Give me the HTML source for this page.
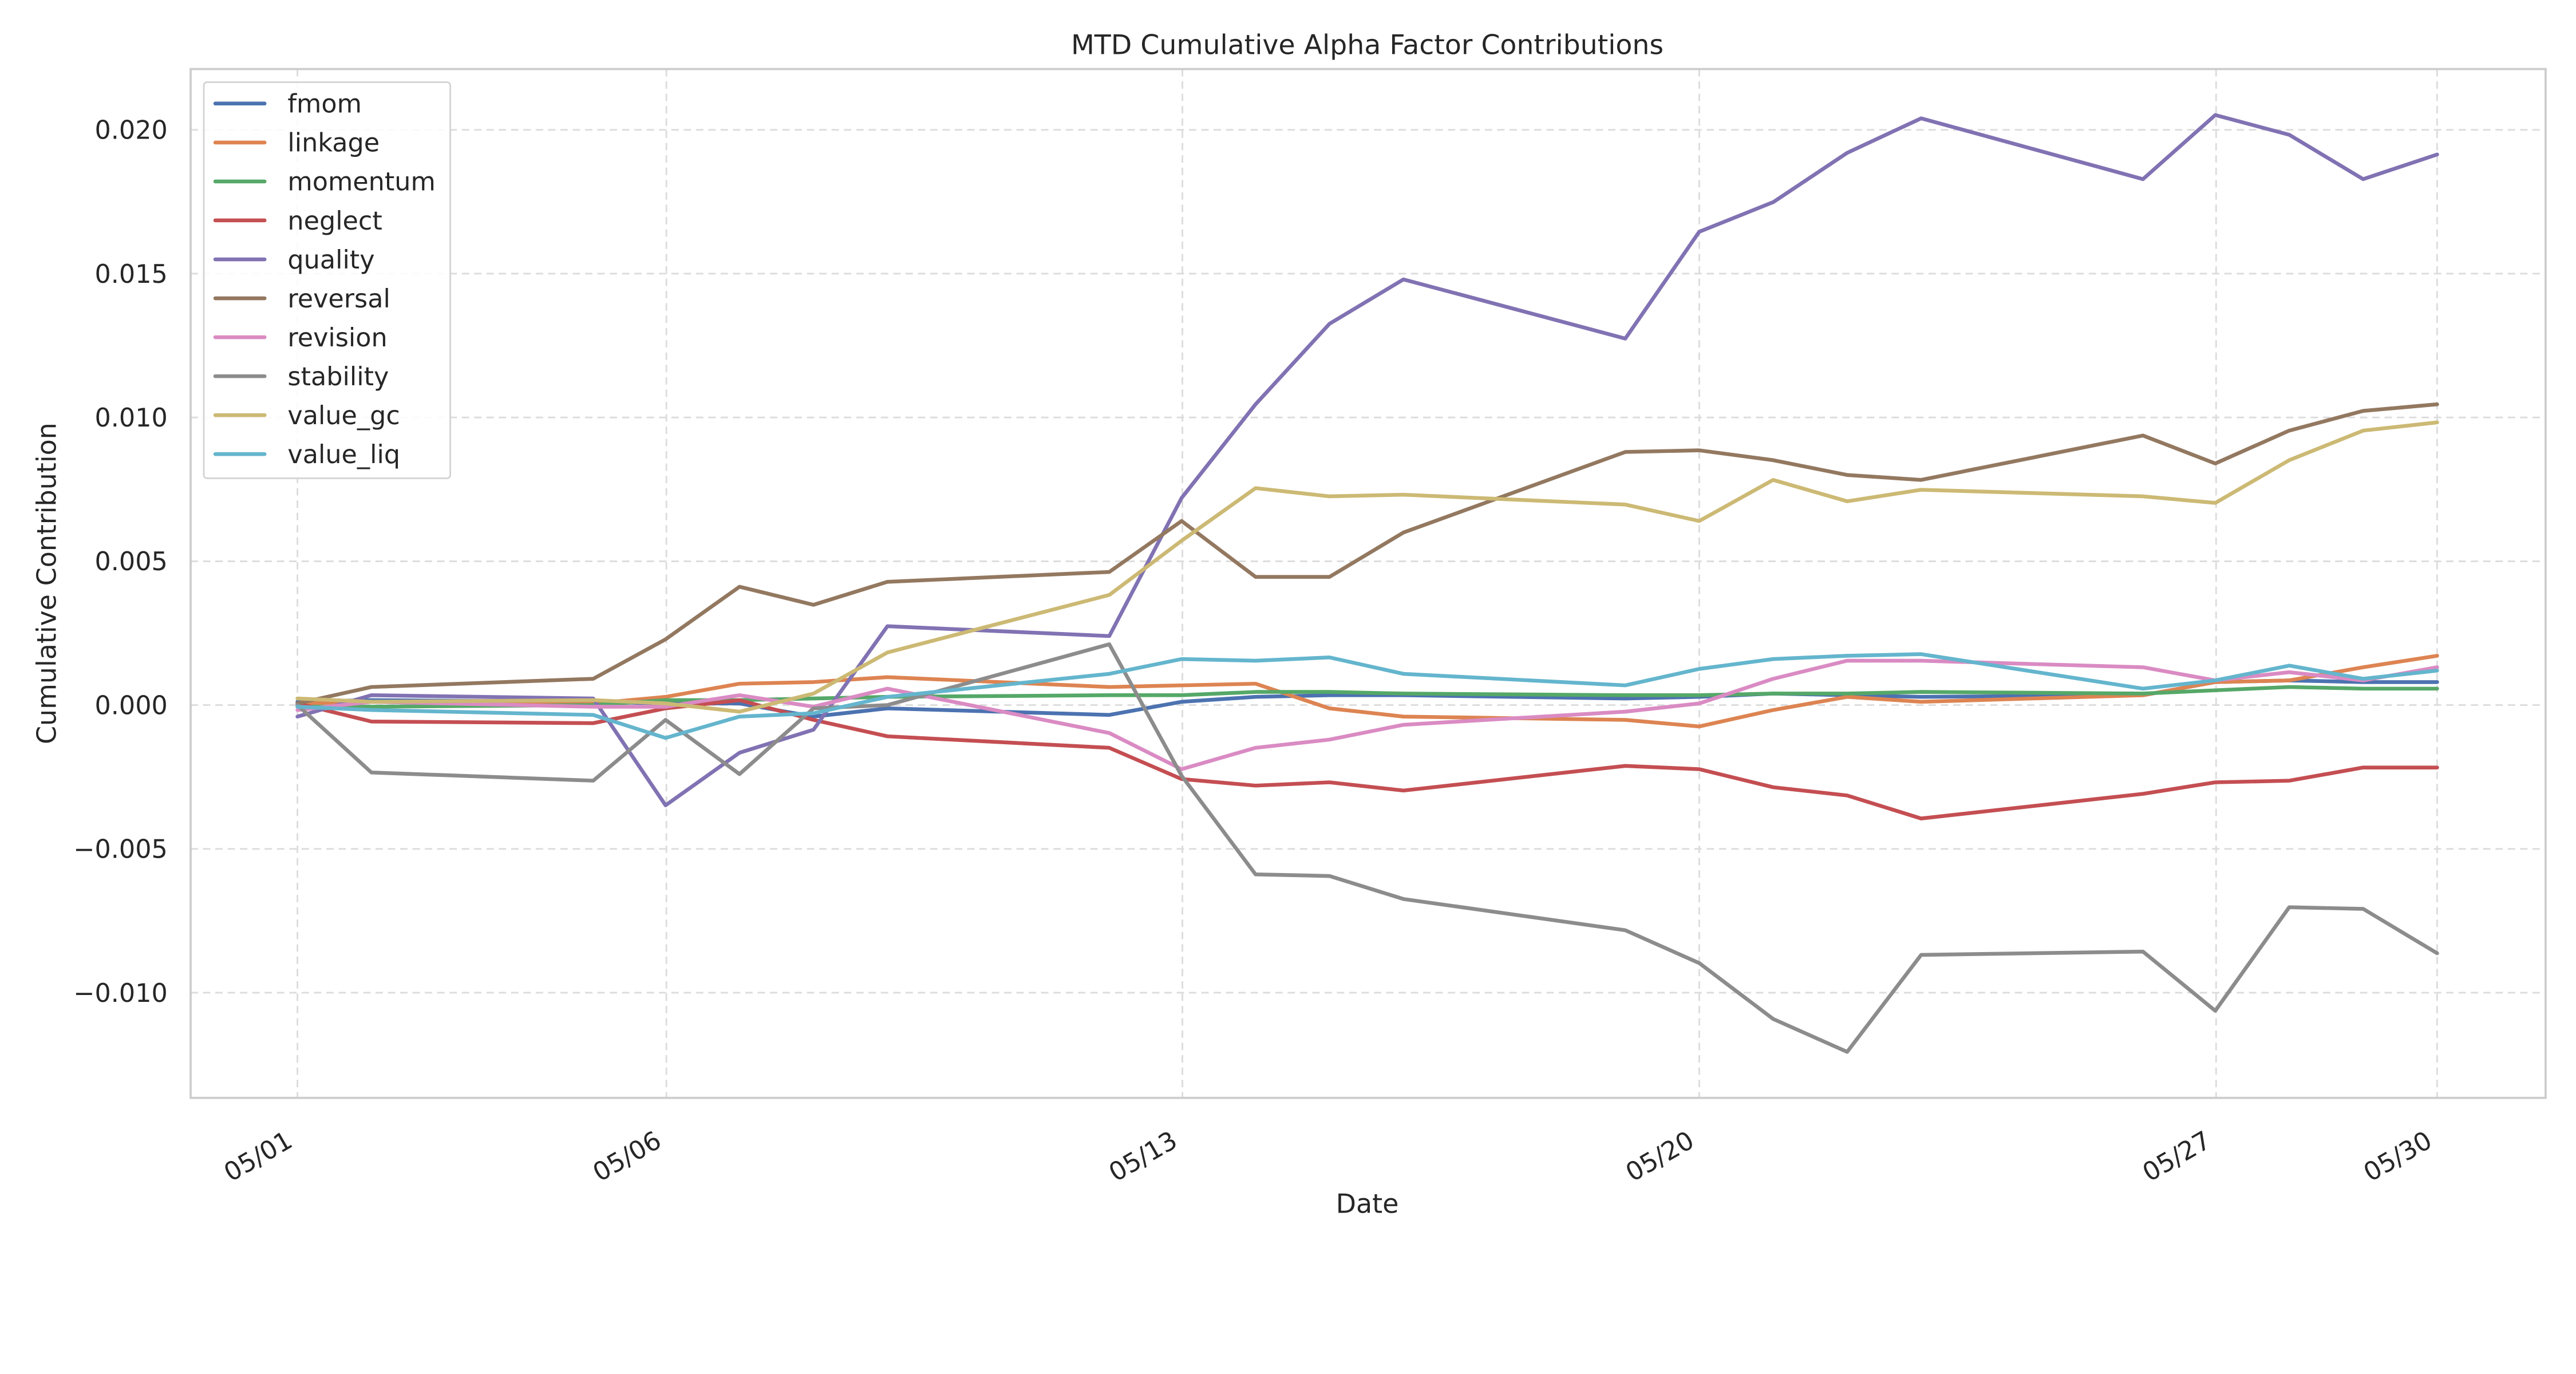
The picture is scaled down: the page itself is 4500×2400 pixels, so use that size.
<!DOCTYPE html>
<html><head><meta charset="utf-8"><style>html,body{margin:0;padding:0;background:#fff}svg{display:block}</style></head>
<body>
<svg width="4500" height="2400" viewBox="0 0 1567.5 836" xmlns="http://www.w3.org/2000/svg" font-family="'DejaVu Sans','Liberation Sans',sans-serif" fill="#262626">
<rect width="1567.5" height="836" fill="#fff"/>
<g stroke="#dcdcdc" stroke-width="1" stroke-dasharray="4.5,3">
<line x1="116" x2="1549" y1="79" y2="79"/><line x1="116" x2="1549" y1="166.5" y2="166.5"/><line x1="116" x2="1549" y1="254" y2="254"/><line x1="116" x2="1549" y1="341.5" y2="341.5"/><line x1="116" x2="1549" y1="429" y2="429"/><line x1="116" x2="1549" y1="516.5" y2="516.5"/><line x1="116" x2="1549" y1="604" y2="604"/>
<line y1="42" y2="668" x1="181" x2="181"/><line y1="42" y2="668" x1="405.5" x2="405.5"/><line y1="42" y2="668" x1="719.5" x2="719.5"/><line y1="42" y2="668" x1="1034" x2="1034"/><line y1="42" y2="668" x1="1348.5" x2="1348.5"/><line y1="42" y2="668" x1="1483" x2="1483"/>
</g>
<rect x="116" y="42" width="1433" height="626" fill="none" stroke="#cccccc" stroke-width="1.3"/>
<g font-size="15.5" text-anchor="end">
<text x="102" y="84.5">0.020</text><text x="102" y="172">0.015</text><text x="102" y="259.5">0.010</text><text x="102" y="347">0.005</text><text x="102" y="434.5">0.000</text><text x="102" y="522">−0.005</text><text x="102" y="609.5">−0.010</text>
</g>
<g font-size="15.5" text-anchor="end">
<text transform="translate(179,697) rotate(-30)">05/01</text>
<text transform="translate(403.5,697) rotate(-30)">05/06</text>
<text transform="translate(717.5,697) rotate(-30)">05/13</text>
<text transform="translate(1032,697) rotate(-30)">05/20</text>
<text transform="translate(1346.5,697) rotate(-30)">05/27</text>
<text transform="translate(1481,697) rotate(-30)">05/30</text>
</g>
<text x="832" y="33" font-size="16.5" text-anchor="middle">MTD Cumulative Alpha Factor Contributions</text>
<text x="832" y="738" font-size="16" text-anchor="middle">Date</text>
<text transform="translate(34,355) rotate(-90)" font-size="16" text-anchor="middle">Cumulative Contribution</text>
<g fill="none" stroke-width="2.3" stroke-linejoin="round" stroke-linecap="round">
<polyline stroke="#4C72B0" points="181,427 226,426 361,427 405,428 450,428 495,436 540,431 675,435 719,427 764,424 809,423 854,423 989,425 1034,424 1079,422 1124,423 1169,424 1304,423 1348,415 1393,414 1438,415 1483,415"/>
<polyline stroke="#DD8452" points="181,428 226,427 361,428 405,424 450,416 495,415 540,412 675,418 719,417 764,416 809,431 854,436 989,438 1034,442 1079,432 1124,424 1169,427 1304,423 1348,415 1393,414 1438,406 1483,399"/>
<polyline stroke="#55A868" points="181,430 226,430 361,429 405,426 450,426 495,425 540,424 675,423 719,423 764,421 809,421 854,422 989,423 1034,423 1079,422 1124,422 1169,421 1304,422 1348,420 1393,418 1438,419 1483,419"/>
<polyline stroke="#C44E52" points="181,428 226,439 361,440 405,431 450,426 495,438 540,448 675,455 719,474 764,478 809,476 854,481 989,466 1034,468 1079,479 1124,484 1169,498 1304,483 1348,476 1393,475 1438,467 1483,467"/>
<polyline stroke="#8172B3" points="181,436 226,423 361,425 405,490 450,458 495,444 540,381 675,387 719,303 764,246 809,197 854,170 989,206 1034,141 1079,123 1124,93 1169,72 1304,109 1348,70 1393,82 1438,109 1483,94"/>
<polyline stroke="#937860" points="181,428 226,418 361,413 405,389 450,357 495,368 540,354 675,348 719,317 764,351 809,351 854,324 989,275 1034,274 1079,280 1124,289 1169,292 1304,265 1348,282 1393,262 1438,250 1483,246"/>
<polyline stroke="#DA8BC3" points="181,432 226,427 361,430 405,430 450,423 495,430 540,419 675,446 719,468 764,455 809,450 854,441 989,433 1034,428 1079,413 1124,402 1169,402 1304,406 1348,414 1393,409 1438,414 1483,406"/>
<polyline stroke="#8C8C8C" points="181,429 226,470 361,475 405,438 450,471 495,431 540,429 675,392 719,472 764,532 809,533 854,547 989,566 1034,586 1079,620 1124,640 1169,581 1304,579 1348,615 1393,552 1438,553 1483,580"/>
<polyline stroke="#CCB974" points="181,425 226,427 361,426 405,428 450,433 495,422 540,397 675,362 719,329 764,297 809,302 854,301 989,307 1034,317 1079,292 1124,305 1169,298 1304,302 1348,306 1393,280 1438,262 1483,257"/>
<polyline stroke="#64B5CD" points="181,430 226,432 361,435 405,449 450,436 495,434 540,424 675,410 719,401 764,402 809,400 854,410 989,417 1034,407 1079,401 1124,399 1169,398 1304,419 1348,414 1393,405 1438,413 1483,408"/>
</g>
<rect x="124" y="50" width="150" height="241" rx="2" fill="#fff" fill-opacity="0.85" stroke="#d4d4d4" stroke-width="1"/>
<g stroke-width="2.3" stroke-linecap="round">
<line x1="131" x2="161" y1="63" y2="63" stroke="#4C72B0"/>
<line x1="131" x2="161" y1="86.7" y2="86.7" stroke="#DD8452"/>
<line x1="131" x2="161" y1="110.4" y2="110.4" stroke="#55A868"/>
<line x1="131" x2="161" y1="134.1" y2="134.1" stroke="#C44E52"/>
<line x1="131" x2="161" y1="157.8" y2="157.8" stroke="#8172B3"/>
<line x1="131" x2="161" y1="181.5" y2="181.5" stroke="#937860"/>
<line x1="131" x2="161" y1="205.2" y2="205.2" stroke="#DA8BC3"/>
<line x1="131" x2="161" y1="228.9" y2="228.9" stroke="#8C8C8C"/>
<line x1="131" x2="161" y1="252.6" y2="252.6" stroke="#CCB974"/>
<line x1="131" x2="161" y1="276.3" y2="276.3" stroke="#64B5CD"/>
</g>
<g font-size="15.5">
<text x="175" y="68.5">fmom</text><text x="175" y="92.2">linkage</text><text x="175" y="115.9">momentum</text><text x="175" y="139.6">neglect</text><text x="175" y="163.3">quality</text><text x="175" y="187">reversal</text><text x="175" y="210.7">revision</text><text x="175" y="234.4">stability</text><text x="175" y="258.1">value_gc</text><text x="175" y="281.8">value_liq</text>
</g>
</svg>
</body></html>
